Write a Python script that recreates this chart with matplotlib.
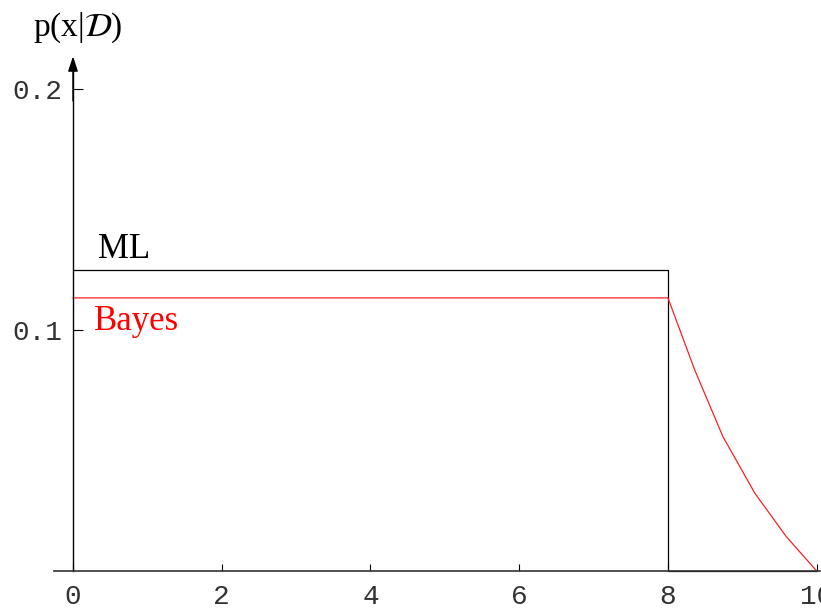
import matplotlib
matplotlib.use("Agg")
import matplotlib.pyplot as plt

# Data
ml_x = [0, 8, 8, 10]
ml_y = [0.125, 0.125, 0.0, 0.0]
bayes_x = [0, 8.0, 8.36, 8.74, 9.17, 9.59, 10.0]
bayes_y = [0.1133, 0.1133, 0.0834, 0.0557, 0.0322, 0.0143, 0.0]
xticks = [0, 2, 4, 6, 8, 10]
xtick_labels = ["0", "2", "4", "6", "8", "10"]
yticks = [0.1, 0.2]
ytick_labels = ["0.1", "0.2"]

plt.rcParams["mathtext.fontset"] = "stix"

fig = plt.figure(figsize=(8.21, 6.14), dpi=100)
ax = fig.add_axes([54.4 / 821, 43 / 614, 766 / 821, 511 / 614])
ax.set_xlim(-0.25, 10.05)
ax.set_ylim(0, 0.212)

ax.plot(ml_x, ml_y, color="black", lw=0.9, clip_on=False)
ax.plot(bayes_x, bayes_y, color="#ff2020", lw=0.9, clip_on=False)

for s in ["top", "right"]:
    ax.spines[s].set_visible(False)
ax.spines["left"].set_position(("data", 0))
ax.spines["bottom"].set_position(("data", 0))
ax.spines["left"].set_linewidth(1.0)
ax.spines["bottom"].set_linewidth(1.2)
ax.spines["bottom"].set_color("#333333")

# arrow at top of y axis
ax.annotate("", xy=(0, 0.2135), xytext=(0, 0.195),
            arrowprops=dict(arrowstyle="-|>,head_length=0.9,head_width=0.3",
                            color="black", lw=1.0, shrinkA=0, shrinkB=0),
            annotation_clip=False)

ax.set_xticks(xticks)
ax.set_xticklabels(xtick_labels)
ax.set_yticks(yticks)
ax.set_yticklabels(ytick_labels)
ax.tick_params(axis="x", direction="in", length=5, width=0.8, pad=9.5,
               labelsize=20, labelcolor="#333333")
ax.tick_params(axis="y", direction="in", length=7, width=0.8, pad=8,
               labelsize=20, labelcolor="#333333")
for lab in ax.get_xticklabels() + ax.get_yticklabels():
    lab.set_fontfamily("Liberation Mono")

ax.text(0.34, 0.130, "ML", fontsize=25, family="Liberation Serif",
        color="black", va="baseline", ha="left")
ax.text(0.28, 0.1, "Bayes", fontsize=25, family="Liberation Serif",
        color="red", va="baseline", ha="left")

fig.text(33 / 821, 1 - 36 / 614, r"p(x|$\mathbf{\mathcal{D}}$)", fontsize=24,
         family="Liberation Serif", va="baseline", ha="left")

fig.savefig("out.png", dpi=100)
